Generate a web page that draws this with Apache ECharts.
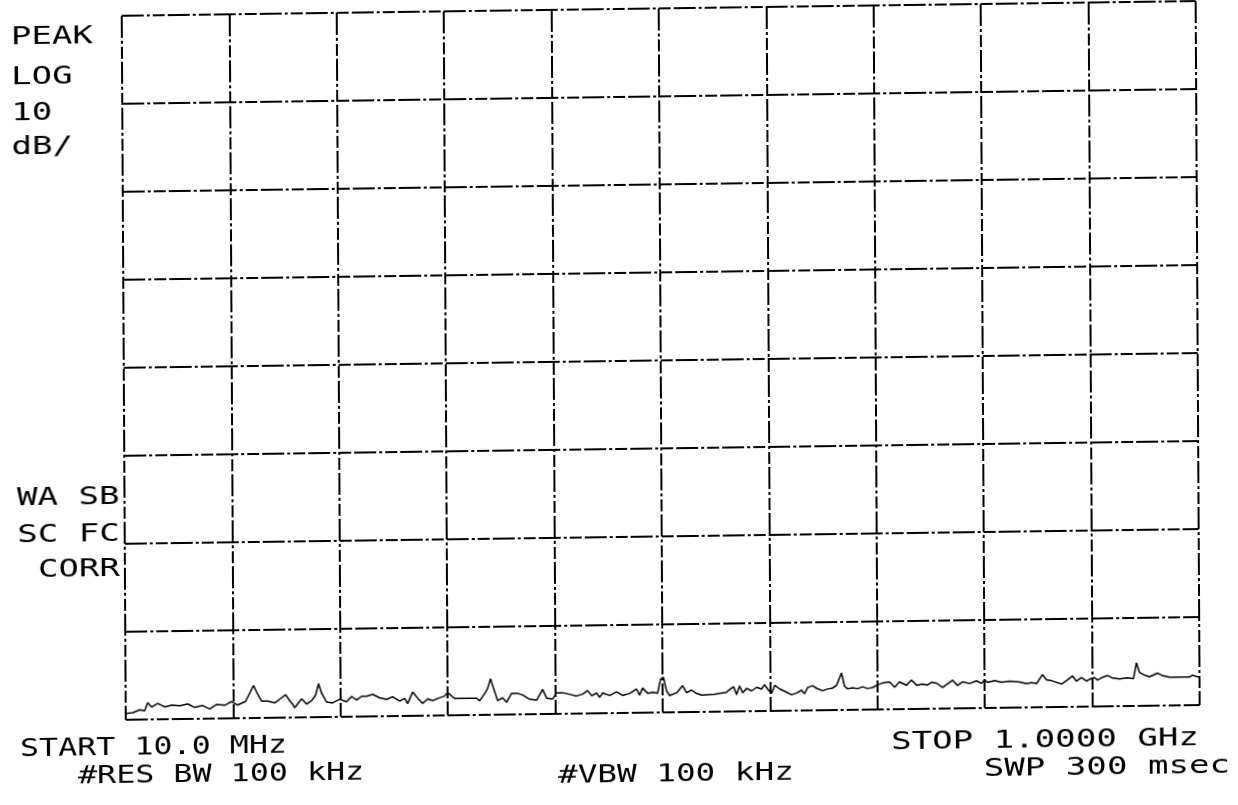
<!DOCTYPE html>
<html>
<head>
<meta charset="utf-8">
<script src="https://cdn.jsdelivr.net/npm/echarts@6/dist/echarts.min.js"></script>
<style>
  html, body { margin: 0; padding: 0; background: #ffffff; }
  #chart {
    width: 1238px; height: 805px; background: #ffffff;
    /* plotter sheet sits slightly askew on the page */
    transform: matrix(1, -0.0137, 0.0057, 1, 0, 0);
    transform-origin: 50% 50%;
  }
</style>
</head>
<body>
<div id="chart"></div>
<script>
// Sweep: 10.0 MHz start, 1.0000 GHz stop, 10 divisions
const startMHz = 10;
const stopMHz = 1000;
const divisions = 10;

// Log scale, 10 dB/div, 8 divisions below the reference line
const refLevelDb = 0;
const dbPerDiv = 10;
const vertDivisions = 8;

// Trace: frequency (MHz) and level (dB relative to reference)
const freqMHz = [
  10,16.5,22.9,27.5,30.3,34,39.5,46,52.4,59.8,
  67.2,73.6,81,87.4,93.9,101.3,107.7,113.2,120.6,128,
  131.7,135.4,140.9,147.3,152,157.5,161.2,164,165.8,172.2,
  176.8,181.5,185.1,187.9,190.7,195.3,200.8,207.3,213.7,218.3,
  222.9,227.5,232.2,237.7,244.1,250.6,256.1,262.6,267.2,269.9,
  274.6,279.2,283.8,288.4,293,299.4,304.1,306.8,313.3,322.5,
  333.5,336.3,340.9,343.7,346.5,349.2,352.9,357.5,361.2,365.8,
  371.3,375.9,382.4,388.9,394.4,398.1,403.6,407.3,412.8,419.3,
  425.7,431.3,435.9,439.6,444.2,446.9,449.7,456.2,462.6,468.1,
  474.6,481,483.8,486.6,491.2,495.8,500.4,503.2,505.9,508.7,
  511.5,517.9,523.5,527.1,531.7,536.4,541,553,564,566.8,
  570.5,573.2,576,578.8,582.5,587.1,591.7,596.3,599,601.8,
  605.5,608.3,612.9,619.3,623.9,628.5,633.1,635.9,638.7,643.3,
  647,652.5,657.1,661.7,665.4,670,672.8,675.5,680.2,684.8,
  689.4,694,698.6,703.2,707.8,714.3,718.9,723.5,729.9,734.5,
  739.1,744.7,749.3,753,757.6,763.1,767.7,772.3,776.9,781.5,
  788,794.5,799.1,801.8,804.6,811,817.5,824.9,834.1,840.6,
  845.2,849.8,855.3,859,863.6,868.2,872.8,877.5,883,886.6,
  891.2,895.8,898.6,903.2,906,910.6,915.2,919.8,926.3,933.6,
  939.2,941.9,944.7,949.3,953.9,961.3,965.9,972.4,981.6,990.8,
  993.5,998.2,1000
];
const levelDb = [
  -79.3,-79.2,-78.9,-79.0,-78.1,-78.6,-78.2,-78.6,-78.4,-78.5,
  -78.3,-78.7,-78.5,-78.9,-78.4,-78.5,-78.1,-78.5,-78.1,-76.3,
  -77.3,-78.1,-78.1,-78.3,-77.9,-77.4,-78.1,-78.5,-78.9,-77.9,
  -78.5,-78.1,-77.5,-76.2,-77.3,-78.3,-78.4,-78.0,-78.3,-77.7,
  -78.1,-77.7,-77.7,-77.5,-77.9,-78.1,-77.8,-78.3,-78.0,-78.6,
  -77.3,-78.0,-78.6,-78.1,-78.3,-78.0,-77.8,-77.4,-78.1,-78.1,
  -78.1,-78.4,-77.6,-77.0,-75.9,-77.0,-78.4,-78.1,-78.6,-77.6,
  -77.6,-77.8,-78.3,-78.4,-77.2,-78.2,-78.3,-77.6,-77.6,-77.8,
  -78.0,-77.8,-77.4,-78.0,-77.7,-78.2,-77.7,-78.0,-77.6,-78.0,
  -77.8,-77.3,-78.0,-77.2,-77.8,-77.7,-77.8,-76.2,-76.0,-77.6,
  -78.1,-77.8,-77.0,-77.8,-77.5,-77.9,-78.1,-78.0,-77.8,-77.5,
  -77.2,-78.1,-77.1,-77.9,-77.4,-77.7,-77.3,-77.5,-77.0,-77.5,
  -78.0,-77.1,-77.5,-77.9,-78.2,-78.0,-77.7,-78.1,-77.4,-77.2,
  -77.5,-77.8,-77.6,-77.5,-77.2,-75.8,-77.3,-77.6,-77.5,-77.6,
  -77.4,-77.6,-77.5,-77.2,-77.0,-76.9,-77.5,-76.9,-77.3,-76.7,
  -77.3,-77.2,-77.3,-77.0,-77.1,-77.6,-77.2,-76.8,-77.4,-77.0,
  -77.2,-76.9,-77.2,-76.8,-77.1,-76.9,-77.1,-77.0,-77.1,-77.3,
  -77.2,-77.3,-76.3,-76.9,-77.0,-77.2,-77.4,-77.0,-76.5,-77.1,
  -76.7,-77.1,-76.9,-76.7,-77.0,-76.7,-76.5,-76.8,-76.9,-76.8,
  -76.9,-75.1,-76.2,-76.5,-76.7,-76.3,-76.6,-76.8,-76.8,-76.8,
  -76.6,-76.8,-76.8
];

// Annotation text around the graticule
const leftTopLabels = ['PEAK', 'LOG', '10', 'dB/'];
const leftBottomLabels = ['WA SB', 'SC FC', 'CORR'];
const footerLeft = ['START 10.0 MHz', '#RES BW 100 kHz'];
const footerMid = ['#VBW 100 kHz'];
const footerRight = ['STOP 1.0000 GHz', 'SWP 300 msec'];

const spanMHz = stopMHz - startMHz;
const divMHz = spanMHz / divisions;
const bottomDb = refLevelDb - dbPerDiv * vertDivisions;

// x is measured from the start frequency so that ticks fall on the divisions
const traceData = freqMHz.map((f, i) => [f - startMHz, levelDb[i]]);

// pen-plotter graticule: long dashes broken by short dots
const gridLine = {
  color: '#000',
  width: 2,
  type: [22, 3, 3, 3, 12, 3],
  dashOffset: 0
};

const FONT = '"DejaVu Sans Mono", "Liberation Mono", monospace';
const FS = 24;
const SX = 1.42;

function label(text, x, y, align, sx) {
  return {
    type: 'text',
    x: x, y: y,
    scaleX: sx || SX,
    silent: true,
    style: {
      text: text,
      fill: '#000',
      font: FS + 'px ' + FONT,
      align: align || 'left',
      verticalAlign: 'middle'
    }
  };
}

const graphics = [];
const topYs = [30, 70, 106, 140];
leftTopLabels.forEach((t, i) => graphics.push(label(t, 13, topYs[i], 'left')));
const botYs = [491, 528, 563];
leftBottomLabels.forEach((t, i) => graphics.push(label(t, 119, botYs[i], 'right')));
graphics.push(label(footerLeft[0], 18, 742, 'left', 1.32));
graphics.push(label(footerLeft[1], 76, 770, 'left', 1.32));
graphics.push(label(footerMid[0], 556, 776, 'left', 1.36));
graphics.push(label(footerRight[0], 1197, 747, 'right'));
graphics.push(label(footerRight[1], 1228, 775, 'right'));

const chart = echarts.init(document.getElementById('chart'), null, { renderer: 'canvas' });
chart.setOption({
  backgroundColor: '#ffffff',
  animation: false,
  grid: { left: 124, top: 9, width: 1074, height: 704, show: false },
  xAxis: {
    type: 'value',
    min: 0,
    max: spanMHz,
    interval: divMHz,
    axisLine: { show: false },
    axisTick: { show: false },
    axisLabel: { show: false },
    splitLine: { show: true, lineStyle: gridLine }
  },
  yAxis: {
    type: 'value',
    min: bottomDb,
    max: refLevelDb,
    interval: dbPerDiv,
    axisLine: { show: false },
    axisTick: { show: false },
    axisLabel: { show: false },
    splitLine: { show: true, lineStyle: gridLine }
  },
  series: [{
    type: 'line',
    data: traceData,
    showSymbol: false,
    symbol: 'none',
    lineStyle: { color: '#000', width: 1.5 },
    silent: true
  }],
  graphic: graphics
});
</script>
</body>
</html>
